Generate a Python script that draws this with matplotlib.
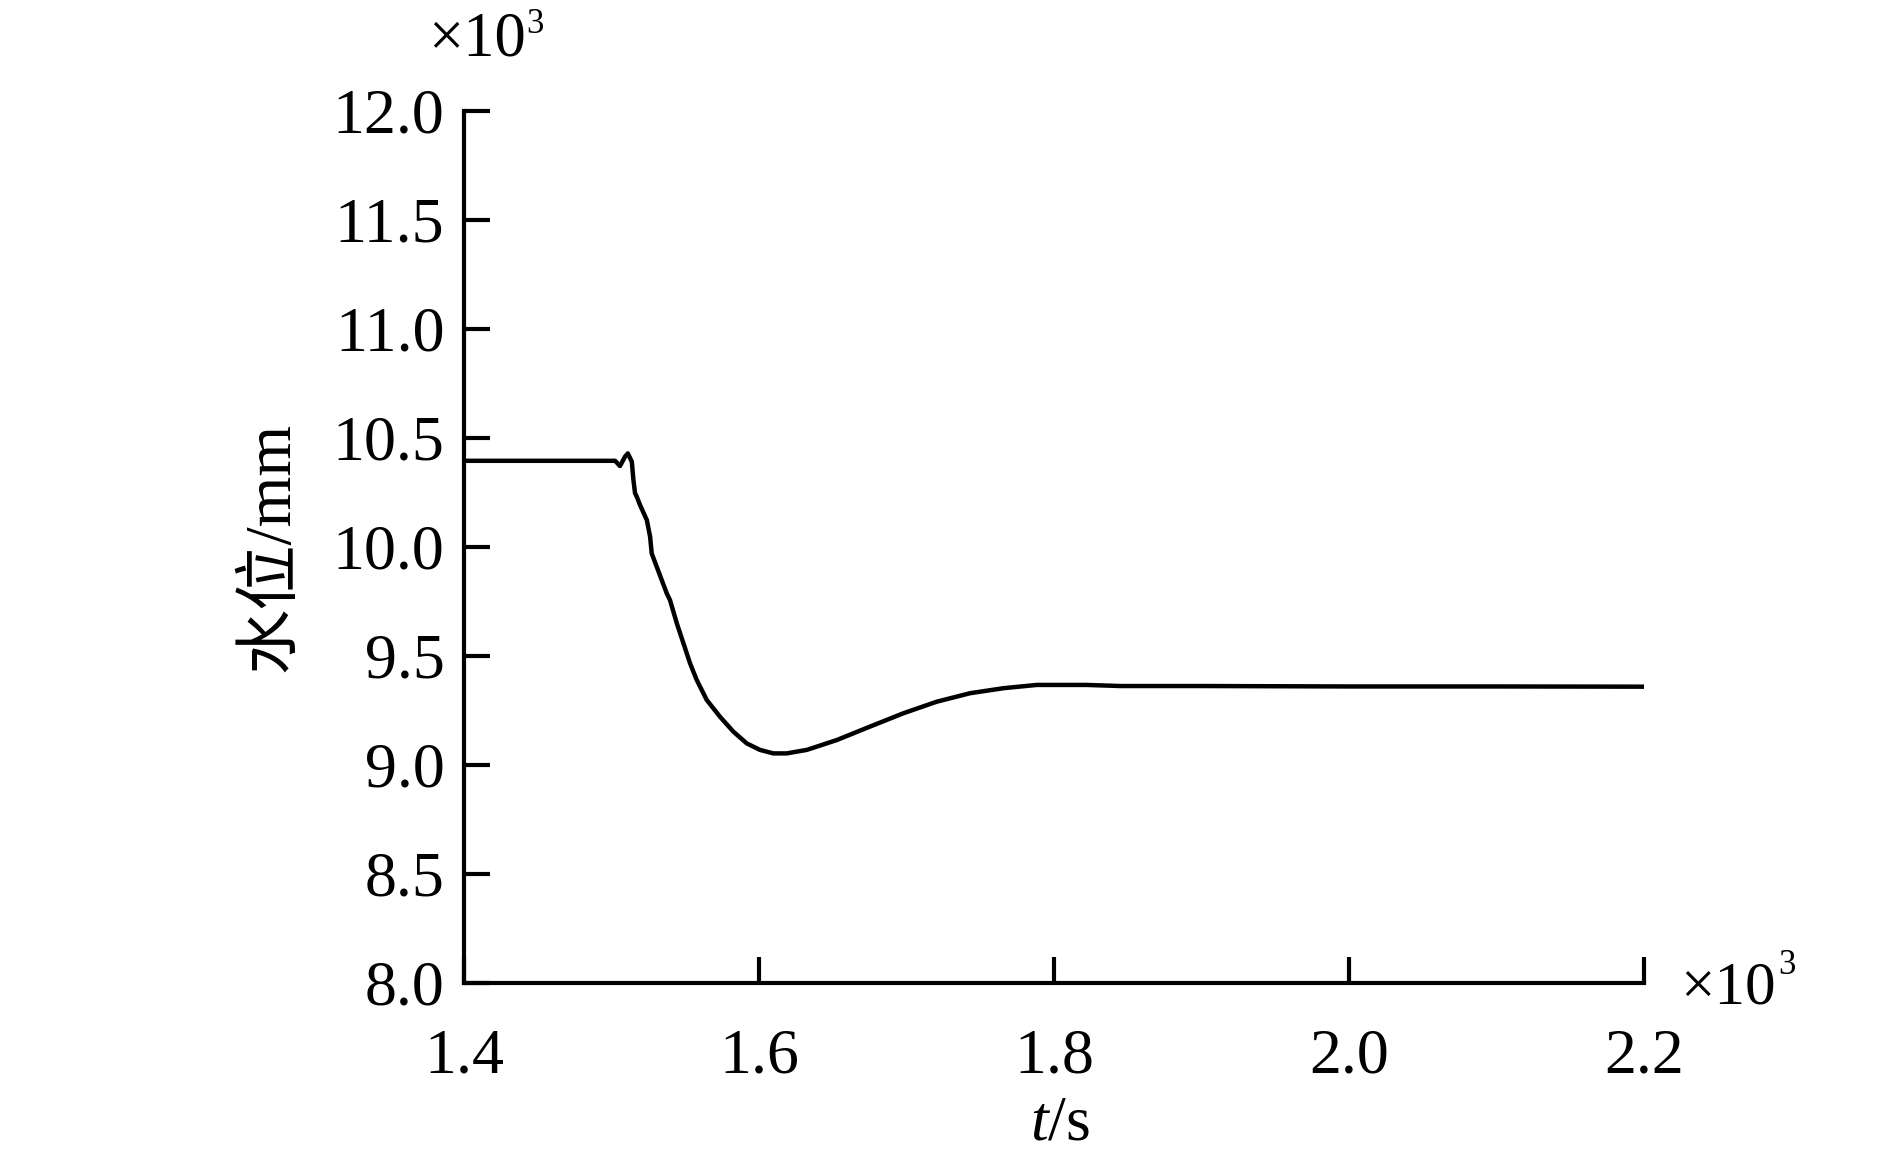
import matplotlib
matplotlib.use("Agg")
import matplotlib.pyplot as plt

plt.rcParams['font.family'] = ['Liberation Serif', 'Noto Sans CJK SC']
plt.rcParams['mathtext.fontset'] = 'custom'
plt.rcParams['mathtext.rm'] = 'Liberation Serif'
plt.rcParams['mathtext.it'] = 'Liberation Serif:italic'

# time in seconds, water level in mm
t = [1400, 1502.5, 1505.8, 1509.2, 1511.1, 1513.8, 1514.9, 1516.0, 1517.2, 1519.4,
     1524.0, 1526.2, 1527.3, 1530.7, 1534.1, 1537.5, 1539.7, 1544.3, 1548.8, 1553.3,
     1557.8, 1564.6, 1573.6, 1582.6, 1591.7, 1600.7, 1609.7, 1618.8, 1632.4, 1652.7,
     1675.3, 1697.9, 1720.5, 1743.1, 1765.7, 1788.3, 1822.0, 1845.0, 1900, 2000, 2100, 2200]
level = [10395, 10395, 10371, 10414, 10429, 10391, 10307, 10246, 10230, 10192,
         10123, 10047, 9970, 9909, 9848, 9787, 9756, 9650, 9558, 9466,
         9390, 9298, 9221, 9153, 9099, 9069, 9053, 9053, 9069, 9114,
         9176, 9237, 9290, 9329, 9352, 9367, 9367, 9362, 9362, 9360, 9360, 9359]

xticks = [1400, 1600, 1800, 2000, 2200]
xticklabels = ['1.4', '1.6', '1.8', '2.0', '2.2']
yticks = [8000, 8500, 9000, 9500, 10000, 10500, 11000, 11500, 12000]
yticklabels = ['8.0', '8.5', '9.0', '9.5', '10.0', '10.5', '11.0', '11.5', '12.0']

fig = plt.figure(figsize=(18.89, 11.49), dpi=100)
ax = fig.add_axes([0.2456, 0.1445, 0.6247, 0.759])
ax.plot(t, level, color='black', lw=3.2, solid_joinstyle='round')
ax.set_xlim(1400, 2200)
ax.set_ylim(8000, 12000)
ax.spines['top'].set_visible(False)
ax.spines['right'].set_visible(False)
for s in ('left', 'bottom'):
    ax.spines[s].set_linewidth(3.0)
ax.set_xticks(xticks)
ax.set_xticklabels(xticklabels)
ax.set_yticks(yticks)
ax.set_yticklabels(yticklabels)
ax.tick_params(direction='in', length=19, width=3.0, labelsize=46, pad=14)
ax.tick_params(axis='x', pad=33)
for lab in ax.get_xticklabels() + ax.get_yticklabels():
    lab.set_fontfamily('Liberation Serif')

ax.set_ylabel('水位/mm', fontsize=47, labelpad=22)
fig.text(0.561, 0.008, r'$t$/s', fontsize=46, ha='center', va='baseline')

# axis multipliers
fig.text(0.2266, 0.952, '×10', fontsize=45, ha='left', va='baseline')
fig.text(0.2785, 0.9716, '3', fontsize=25, ha='left', va='baseline')
fig.text(0.8894, 0.127, '×10', fontsize=44, ha='left', va='baseline')
fig.text(0.9415, 0.1525, '3', fontsize=25, ha='left', va='baseline')

fig.savefig('out.png', dpi=100, facecolor='white')
